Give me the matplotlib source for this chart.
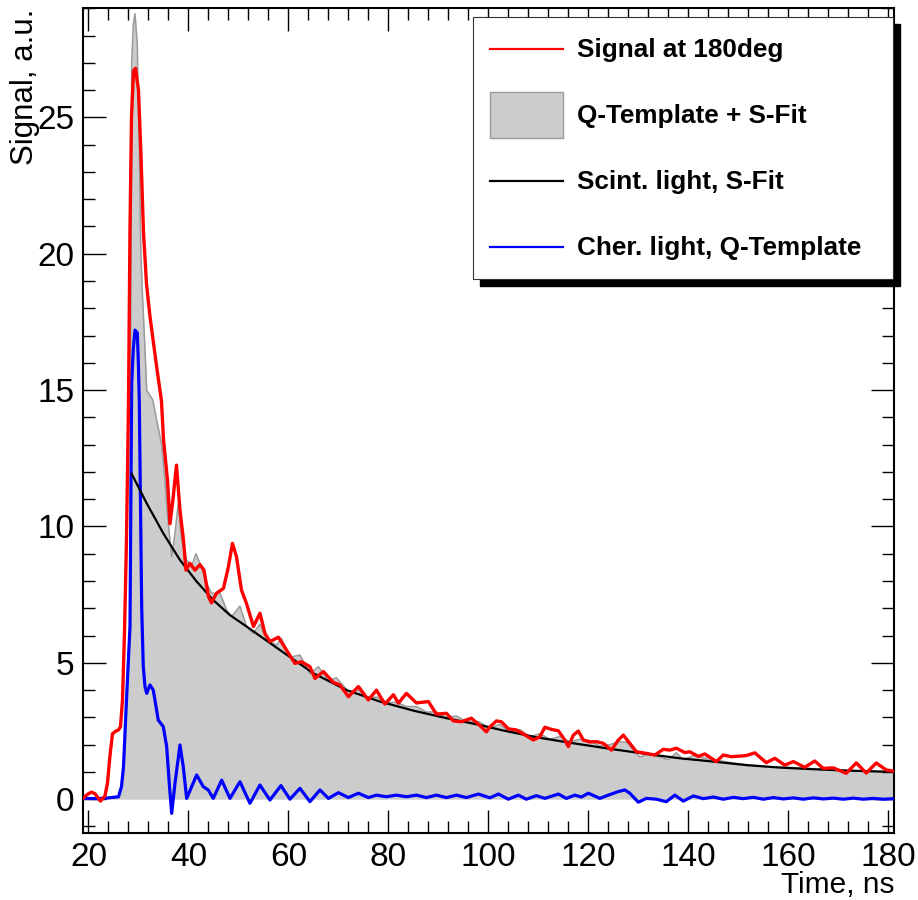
import matplotlib
matplotlib.use('Agg')
import matplotlib.pyplot as plt
from matplotlib.patches import Rectangle
from matplotlib.lines import Line2D
from matplotlib.ticker import MultipleLocator

plt.rcParams['font.family'] = ['Liberation Sans', 'DejaVu Sans']

# Signal at 180deg (red)
t_signal = [18.9, 19.8, 20.6, 21.3, 22.4, 23.3, 23.8, 24.3, 24.8, 25.5,
            26.0, 26.4, 26.8, 27.2, 27.6, 28.0, 28.3, 28.6, 29.0, 29.4,
            30.0, 30.5, 31.0, 31.6, 32.3, 33.6, 34.6, 35.0, 35.8, 36.3,
            36.9, 37.6, 38.3, 39.0, 39.5, 40.3, 41.3, 42.3, 43.1, 44.0,
            44.6, 45.6, 47.0, 48.0, 48.8, 49.6, 50.6, 51.6, 53.0, 54.3,
            55.3, 56.3, 58.0, 59.6, 61.3, 62.6, 64.3, 65.3, 67.0, 69.0,
            70.3, 72.0, 74.0, 76.0, 77.6, 79.3, 81.0, 82.0, 83.6, 85.6,
            88.0, 89.6, 91.6, 93.0, 94.6, 96.6, 98.3, 99.6, 100.3, 101.6,
            102.6, 104.0, 105.6, 107.0, 109.0, 110.3, 111.3, 112.6, 114.0, 115.3,
            116.0, 117.0, 118.0, 119.0, 120.3, 121.6, 123.0, 124.6, 126.0, 127.0,
            128.3, 129.6, 131.6, 133.3, 135.0, 136.3, 137.6, 139.3, 140.3, 142.0,
            143.3, 145.6, 147.0, 148.6, 150.3, 151.6, 153.3, 155.6, 157.3, 159.3,
            161.0, 163.3, 165.3, 167.0, 169.0, 171.6, 173.6, 175.6, 177.6, 179.6,
            181.1]
signal = [0.03, 0.18, 0.26, 0.2, -0.07, 0.12, 0.6, 1.6, 2.4, 2.5,
          2.54, 2.66, 3.64, 6.1, 9.5, 14.5, 20.9, 25.0, 26.7, 26.8,
          26.0, 23.6, 20.8, 18.9, 17.7, 15.9, 14.6, 13.2, 11.7, 10.1,
          11.0, 12.25, 10.6, 9.5, 8.4, 8.65, 8.4, 8.6, 8.4, 7.43,
          7.2, 7.55, 7.73, 8.53, 9.38, 8.9, 7.67, 7.18, 6.33, 6.82,
          6.08, 5.78, 5.94, 5.47, 4.98, 5.04, 4.86, 4.43, 4.68, 4.28,
          4.19, 3.76, 4.13, 3.64, 4.0, 3.49, 3.83, 3.52, 3.88, 3.53,
          3.58, 3.12, 3.15, 2.87, 2.84, 2.97, 2.7, 2.47, 2.65, 2.87,
          2.84, 2.58, 2.54, 2.39, 2.17, 2.29, 2.64, 2.56, 2.51, 2.17,
          1.93, 2.35, 2.5, 2.17, 2.1, 2.11, 2.05, 1.8, 2.17, 2.35,
          2.05, 1.74, 1.68, 1.62, 1.83, 1.8, 1.87, 1.71, 1.74, 1.57,
          1.66, 1.38, 1.62, 1.56, 1.58, 1.6, 1.7, 1.34, 1.5, 1.25,
          1.38, 1.17, 1.4, 1.13, 1.15, 0.95, 1.33, 0.96, 1.33, 1.07,
          1.03]

# Cherenkov light, Q-Template (blue)
t_cher = [18.9, 22.0, 24.0, 26.0, 26.6, 27.0, 27.6, 28.3, 28.64, 28.96,
          29.3, 29.76, 29.96, 30.16, 30.64, 30.96, 31.3, 31.64, 32.3, 32.96,
          33.96, 34.96, 35.64, 36.16, 36.64, 37.3, 38.3, 38.96, 39.64, 40.64,
          41.64, 42.96, 43.96, 44.96, 46.64, 48.3, 50.3, 52.3, 54.3, 56.3,
          58.5, 60.3, 62.3, 64.3, 66.3, 68.0, 70.0, 72.0, 74.0, 76.0,
          77.6, 79.6, 81.6, 83.6, 85.6, 87.6, 89.6, 91.6, 93.6, 95.6,
          98.0, 100.3, 102.0, 104.0, 106.0, 107.6, 109.6, 111.3, 114.0, 115.6,
          117.3, 118.6, 120.0, 122.3, 124.0, 126.0, 127.3, 128.3, 130.0, 131.6,
          133.6, 135.6, 137.3, 139.0, 141.0, 143.0, 145.0, 147.0, 149.0, 151.0,
          153.0, 155.0, 157.0, 159.0, 161.0, 163.0, 165.0, 167.0, 169.0, 171.0,
          173.0, 175.0, 177.0, 179.0, 181.1]
cher = [0.03, 0.02, 0.05, 0.09, 0.46, 1.19, 3.64, 6.33, 15.25, 16.5,
        17.2, 17.1, 16.1, 14.6, 7.06, 4.86, 4.13, 3.88, 4.19, 4.0,
        2.9, 2.66, 1.93, 0.58, -0.52, 0.58, 1.99, 1.19, 0.03, 0.46,
        0.89, 0.46, 0.34, 0.03, 0.7, 0.03, 0.64, -0.15, 0.52, -0.03,
        0.5, 0.0, 0.4, -0.09, 0.34, 0.03, 0.24, 0.06, 0.22, 0.06,
        0.15, 0.09, 0.15, 0.09, 0.15, 0.06, 0.15, 0.06, 0.15, 0.06,
        0.19, 0.05, 0.19, 0.0, 0.15, 0.0, 0.13, 0.03, 0.19, 0.03,
        0.15, 0.08, 0.22, 0.03, 0.15, 0.28, 0.34, 0.22, -0.11, 0.03,
        0.0, -0.09, 0.15, -0.07, 0.12, 0.02, 0.08, 0.0, 0.07, 0.02,
        0.07, 0.0, 0.06, 0.01, 0.05, 0.0, 0.05, 0.01, 0.04, 0.0,
        0.04, 0.0, 0.03, 0.0, 0.02]

# Scintillation light, S-Fit (black)
t_fit = [28.64, 31.64, 34.96, 38.3, 41.64, 44.96, 48.3, 51.64, 54.96, 58.3,
         64.96, 71.64, 78.3, 84.96, 91.64, 98.3, 102.96, 109.64, 116.3, 124.96,
         131.64, 138.3, 144.96, 151.64, 158.3, 164.96, 171.64, 181.1]
fit = [11.93, 10.85, 9.75, 8.77, 7.98, 7.3, 6.75, 6.33, 5.9, 5.47,
       4.62, 4.0, 3.58, 3.25, 2.97, 2.72, 2.52, 2.27, 2.07, 1.83,
       1.66, 1.5, 1.38, 1.25, 1.16, 1.1, 1.05, 1.0]

# Q-Template + S-Fit (grey)
t_sum = [18.9, 26.0, 26.6, 27.0, 27.6, 28.3, 28.64, 28.96, 29.3, 29.76,
         29.96, 30.16, 30.3, 30.5, 30.84, 31.3, 31.64, 32.3, 32.84, 33.64,
         34.64, 35.3, 35.76, 36.64, 37.3, 37.96, 38.64, 39.64, 40.64, 41.5,
         42.3, 43.64, 44.64, 46.3, 47.64, 48.64, 50.3, 51.64, 52.96, 54.3,
         55.64, 57.64, 58.6, 60.3, 62.3, 64.3, 66.0, 68.0, 69.6, 72.0,
         74.0, 76.0, 77.6, 79.6, 81.6, 83.6, 85.6, 87.6, 89.6, 91.6,
         93.6, 95.6, 98.0, 100.3, 102.3, 104.3, 106.3, 108.3, 110.3, 112.3,
         114.3, 116.3, 118.3, 120.3, 122.3, 124.3, 126.0, 127.6, 130.3, 132.3,
         136.0, 137.6, 139.0, 141.0, 145.0, 150.0, 155.0, 160.0, 165.0, 170.0,
         175.0, 181.1]
qsum = [0.0, 0.05, 0.4, 1.2, 3.64, 6.4, 27.0, 28.4, 28.8, 27.7,
        25.6, 24.0, 22.0, 19.9, 18.3, 16.5, 15.0, 14.8, 14.65, 13.9,
        13.0, 11.7, 10.5, 8.89, 9.75, 10.85, 9.5, 8.77, 8.53, 9.0,
        8.65, 7.92, 7.55, 7.55, 6.94, 6.69, 7.08, 6.33, 6.08, 6.42,
        5.84, 5.65, 5.9, 5.2, 5.29, 4.6, 4.86, 4.35, 4.45, 3.95,
        4.0, 3.7, 3.75, 3.55, 3.55, 3.4, 3.4, 3.2, 3.2, 3.0,
        3.05, 2.85, 2.85, 2.6, 2.75, 2.45, 2.55, 2.3, 2.4, 2.2,
        2.3, 2.1, 2.2, 2.15, 1.95, 2.0, 2.1, 2.1, 1.55, 1.65,
        1.45, 1.7, 1.45, 1.6, 1.45, 1.3, 1.2, 1.17, 1.12, 1.07,
        1.03, 1.0]

legend_labels = ['Signal at 180deg', 'Q-Template + S-Fit',
                 'Scint. light, S-Fit', 'Cher. light, Q-Template']

W, H = 918, 900
fig = plt.figure(figsize=(W / 100, H / 100), dpi=100)
ax = fig.add_axes([83 / W, 1 - 833.3 / H, 811 / W, 825 / H])

# grey histogram with outline
ax.fill_between(t_sum, 0, qsum, color='#cccccc', lw=0, zorder=1)
ax.plot(t_sum, qsum, color='#9a9a9a', lw=1.1, zorder=2)
ax.plot(t_cher, cher, color='#0000ff', lw=2.3, zorder=3)
ax.plot(t_fit, fit, color='black', lw=1.6, zorder=4)
ax.plot(t_signal, signal, color='#ff0000', lw=2.4, zorder=5)

ax.set_xlim(18.9, 181.15)
ax.set_ylim(-1.25, 29.0)
ax.xaxis.set_major_locator(MultipleLocator(20))
ax.xaxis.set_minor_locator(MultipleLocator(4))
ax.yaxis.set_major_locator(MultipleLocator(5))
ax.yaxis.set_minor_locator(MultipleLocator(1))
ax.tick_params(which='both', direction='in', top=True, right=True, width=1.0)
ax.tick_params(which='major', length=16.5, labelsize=24)
ax.tick_params(which='minor', length=8.3)
ax.tick_params(axis='x', which='major', pad=6)
ax.tick_params(axis='y', which='major', pad=6)
for s in ax.spines.values():
    s.set_linewidth(1.5)

ax.set_xlabel('Time, ns', fontsize=21.5, loc='right')
ax.xaxis.set_label_coords(1.0, -0.046)
ax.set_ylabel('Signal, a.u.', fontsize=22.5, loc='top')
ax.yaxis.set_label_coords(-0.053, 1.0)


# legend box drawn in figure pixels
def fx(x):
    return x / W


def fy(y):
    return 1 - y / H


bx0, by0, bx1, by1 = 473.3, 16.7, 892.7, 279.3
fig.patches.append(Rectangle((fx(bx0 + 7), fy(by1 + 7)), fx(bx1 - bx0), (by1 - by0) / H,
                             transform=fig.transFigure, facecolor='black',
                             edgecolor='black', zorder=5))
fig.patches.append(Rectangle((fx(bx0), fy(by1)), fx(bx1 - bx0), (by1 - by0) / H,
                             transform=fig.transFigure, facecolor='white',
                             edgecolor='#333333', lw=0.8, zorder=6))

rows = [49.3, 115, 181, 246.7]
colors = ['#ff0000', None, 'black', '#0000ff']
for row, col, lab in zip(rows, colors, legend_labels):
    if col is None:
        fig.patches.append(Rectangle((fx(490), fy(137.7)), fx(72.7), 45.4 / H,
                                     transform=fig.transFigure, facecolor='#cccccc',
                                     edgecolor='#9a9a9a', lw=1.0, zorder=7))
    else:
        fig.add_artist(Line2D([fx(490), fx(562.7)], [fy(row), fy(row)],
                              transform=fig.transFigure, color=col, lw=1.6, zorder=7))
    fig.text(fx(577.3), fy(row + 8), lab, fontsize=18.8, fontweight='bold',
             ha='left', va='baseline', zorder=8)

fig.savefig('out.png', dpi=100)
